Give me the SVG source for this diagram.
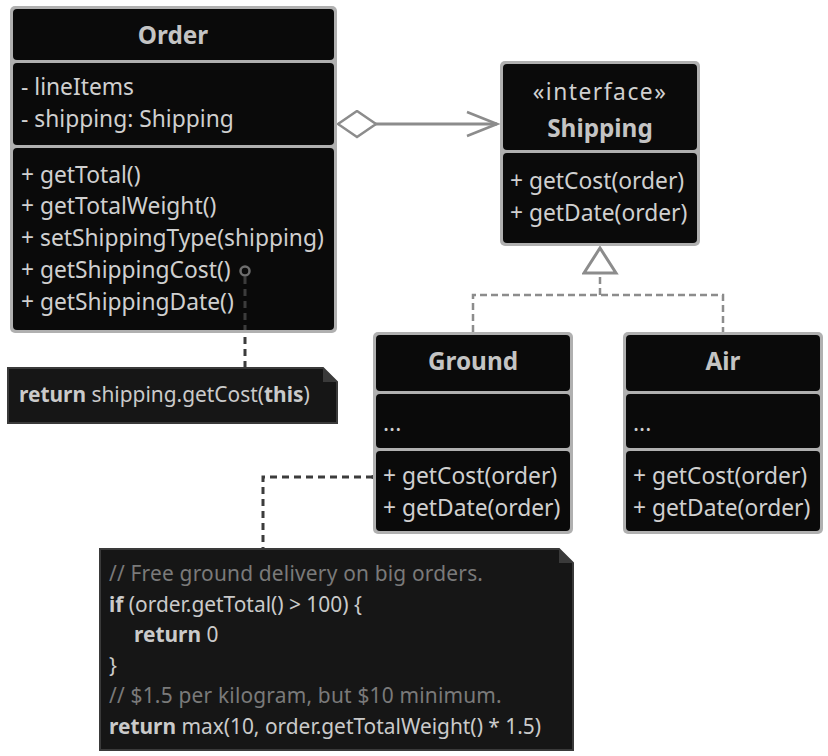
<svg xmlns="http://www.w3.org/2000/svg" width="828" height="756" viewBox="0 0 828 756">
<defs>
<style>
.box{fill:#b0b0b0}
.comp{fill:#0a0a0a}
.t{font-family:"Noto Sans","Open Sans",sans-serif;font-size:22.8px;fill:#d0d0d0}
.title{font-weight:bold;font-size:24.3px;fill:#c4c4c4;text-anchor:middle}
.note{fill:#161616;stroke:#3a3a3a;stroke-width:2}
.fold{fill:#3a3a3a}
.code{font-family:"Noto Sans","Open Sans",sans-serif;font-size:20.9px;fill:#cacaca}
.b{font-weight:bold}
.cm{fill:#7a7a7a;letter-spacing:0.2px}
.rel{fill:none;stroke:#8c8c8c;stroke-width:3}
.dash{fill:none;stroke:#8c8c8c;stroke-width:2.5;stroke-dasharray:7 4}
.link{fill:none;stroke:#3c3c3c;stroke-width:3;stroke-dasharray:7 5}
</style>
<marker id="diamond" markerUnits="userSpaceOnUse" markerWidth="42" markerHeight="30" refX="1" refY="14" orient="auto" viewBox="0 0 42 30">
<path d="M1,14 L20,1 L39,14 L20,27 Z" fill="#fff" stroke="#8c8c8c" stroke-width="2.5"/>
</marker>
<marker id="chev" markerUnits="userSpaceOnUse" markerWidth="34" markerHeight="30" refX="31" refY="14" orient="auto" viewBox="0 0 34 30">
<path d="M1,2 L31,14 L1,26" fill="none" stroke="#8c8c8c" stroke-width="2.5"/>
</marker>
<marker id="tri" markerUnits="userSpaceOnUse" markerWidth="30" markerHeight="38" refX="27" refY="18" orient="auto" viewBox="0 0 30 38">
<path d="M2,2 L27,18 L2,34 Z" fill="#fff" stroke="#8c8c8c" stroke-width="3"/>
</marker>
</defs>
<rect width="828" height="756" fill="#fff"/>

<g id="connectors">
<path d="M338,124 H497" class="rel" marker-start="url(#diamond)" marker-end="url(#chev)"/>
<path d="M600,295 V248" class="dash" marker-end="url(#tri)"/>
<path d="M473,332 V295 H723 V332" class="dash"/>
<path d="M245,277 V367" class="link" stroke="#4a4a4a"/>
<path d="M373,477 H263 V549" class="link"/>
<circle cx="373" cy="477" r="2" fill="#3c3c3c"/>
</g>

<g id="order">
<rect x="10" y="6" width="327" height="327" rx="5" class="box"/>
<rect x="13" y="9" width="321" height="51" rx="4" class="comp"/>
<rect x="13" y="63" width="321" height="82" rx="4" class="comp"/>
<rect x="13" y="148" width="321" height="182" rx="4" class="comp"/>
<text class="t title" x="173" y="44">Order</text>
<text class="t" x="21" y="95">- lineItems</text>
<text class="t" x="21" y="127">- shipping: Shipping</text>
<text class="t" x="21" y="183">+ getTotal()</text>
<text class="t" x="21" y="214">+ getTotalWeight()</text>
<text class="t" x="21" y="246">+ setShippingType(shipping)</text>
<text class="t" x="21" y="278">+ getShippingCost()</text>
<text class="t" x="21" y="310">+ getShippingDate()</text>
<circle cx="245" cy="271" r="4.5" fill="none" stroke="#6e6e6e" stroke-width="2.5"/>
<path d="M245,277 V330" class="link" stroke="#555"/>
</g>

<g id="shipping">
<rect x="500" y="61" width="200" height="185" rx="5" class="box"/>
<rect x="503" y="64" width="194" height="86" rx="4" class="comp"/>
<rect x="503" y="153" width="194" height="90" rx="4" class="comp"/>
<text class="t" x="600" y="100" text-anchor="middle" letter-spacing="1.5">«interface»</text>
<text class="t title" x="600" y="137">Shipping</text>
<text class="t" x="510" y="189">+ getCost(order)</text>
<text class="t" x="510" y="221">+ getDate(order)</text>
</g>

<g id="ground">
<rect x="373" y="332" width="200" height="202" rx="5" class="box"/>
<rect x="376" y="335" width="194" height="56" rx="4" class="comp"/>
<rect x="376" y="394" width="194" height="54" rx="4" class="comp"/>
<rect x="376" y="451" width="194" height="80" rx="4" class="comp"/>
<text class="t title" x="473" y="370">Ground</text>
<text class="t" x="383" y="431">...</text>
<text class="t" x="383" y="484">+ getCost(order)</text>
<text class="t" x="383" y="516">+ getDate(order)</text>
</g>

<g id="air">
<rect x="623" y="332" width="200" height="202" rx="5" class="box"/>
<rect x="626" y="335" width="194" height="56" rx="4" class="comp"/>
<rect x="626" y="394" width="194" height="54" rx="4" class="comp"/>
<rect x="626" y="451" width="194" height="80" rx="4" class="comp"/>
<text class="t title" x="723" y="370">Air</text>
<text class="t" x="633" y="431">...</text>
<text class="t" x="633" y="484">+ getCost(order)</text>
<text class="t" x="633" y="516">+ getDate(order)</text>
</g>

<g id="note-order">
<path d="M8,368 H323 L337,382 V423 H8 Z" class="note"/>
<path d="M323,368 V382 H337 Z" class="fold"/>
<text class="code" x="19" y="402"><tspan class="b">return</tspan> shipping.getCost(<tspan class="b">this</tspan>)</text>
</g>

<g id="note-ground">
<path d="M100,549 H559 L573,563 V750 H100 Z" class="note"/>
<path d="M559,549 V563 H573 Z" class="fold"/>
<text class="code cm" x="109" y="581">// Free ground delivery on big orders.</text>
<text class="code" x="109" y="612"><tspan class="b">if</tspan> (order.getTotal() &gt; 100) {</text>
<text class="code" x="134" y="642"><tspan class="b">return</tspan> 0</text>
<text class="code" x="109" y="673">}</text>
<text class="code cm" x="109" y="703">// $1.5 per kilogram, but $10 minimum.</text>
<text class="code" x="109" y="734"><tspan class="b">return</tspan> max(10, order.getTotalWeight() * 1.5)</text>
</g>
</svg>
